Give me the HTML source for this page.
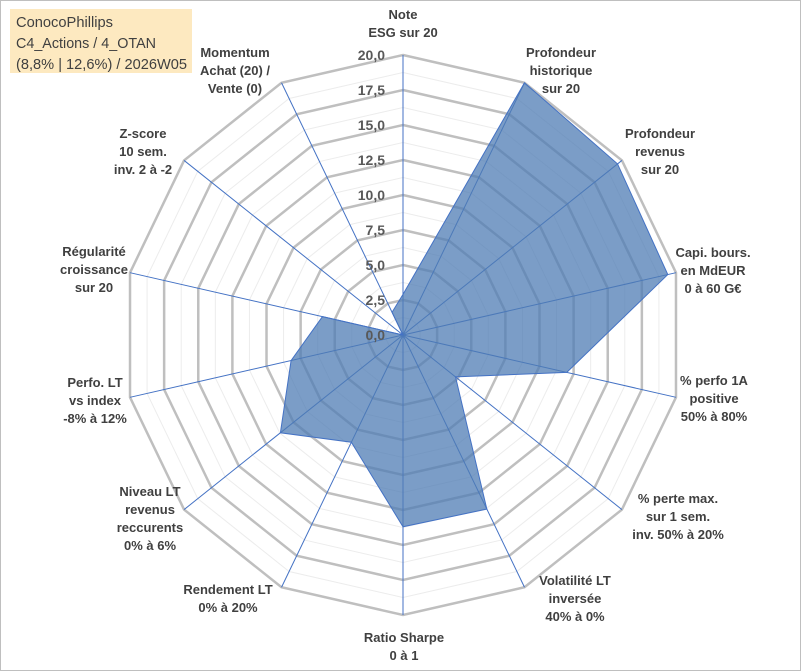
<!DOCTYPE html>
<html><head><meta charset="utf-8"><style>
body{margin:0;background:#fff;}
svg{display:block;font-family:"Liberation Sans",sans-serif;}
</style></head><body>
<svg id="c" width="801" height="671">
<rect x="0.5" y="0.5" width="800" height="670" fill="#fff" stroke="#bfbfbf"/>
<g id="grid"></g><g id="spokes"></g><g id="series"></g><g id="ticks"></g><g id="labels"></g>
<rect x="10" y="9" width="182" height="64" fill="#fde9c0"/>
<text x="16" y="27" font-size="15" fill="#404040" textLength="97" lengthAdjust="spacingAndGlyphs">ConocoPhillips</text>
<text x="16" y="48" font-size="15" fill="#404040" textLength="140" lengthAdjust="spacingAndGlyphs">C4_Actions / 4_OTAN</text>
<text x="16" y="69" font-size="15" fill="#404040" textLength="171" lengthAdjust="spacingAndGlyphs">(8,8% | 12,6%) / 2026W05</text>
</svg>
<script>
const categories=[["Note","ESG sur 20"],["Profondeur","historique","sur 20"],["Profondeur","revenus","sur 20"],["Capi. bours.","en MdEUR","0 à 60 G€"],["% perfo 1A","positive","50% à 80%"],["% perte max.","sur 1 sem.","inv. 50% à 20%"],["Volatilité LT","inversée","40% à 0%"],["Ratio Sharpe","0 à 1"],["Rendement LT","0% à 20%"],["Niveau LT","revenus","reccurents","0% à 6%"],["Perfo. LT","vs index","-8% à 12%"],["Régularité","croissance","sur 20"],["Z-score","10 sem.","inv. 2 à -2"],["Momentum","Achat (20) /","Vente (0)"]];
const values=[2.9,20,19.6,19.4,12.0,4.8,13.8,13.7,8.5,11.2,8.2,5.9,0,1.8];
const tickLabels=["0,0","2,5","5,0","7,5","10,0","12,5","15,0","17,5","20,0"];
const labelPos=[[403,14],[561,52],[660,133],[713,252],[714,380],[678,498],[575,580],[404,637],[228,589],[150,491],[95,382],[94,251],[143,133],[235,52]];
const cx=403,cy=335,R=280,maxV=20,N=categories.length;
const NS="http://www.w3.org/2000/svg";
function ang(i){return i*2*Math.PI/N;}
function pt(i,v){const r=v/maxV*R;return [cx+r*Math.sin(ang(i)),cy-r*Math.cos(ang(i))];}
function mk(tag,attrs,parent){const e=document.createElementNS(NS,tag);for(const k in attrs)e.setAttribute(k,attrs[k]);parent.appendChild(e);return e;}
const grid=document.getElementById('grid');
for(let s=1;s<=16;s++){const v=s*1.25;const pts=[];for(let i=0;i<N;i++)pts.push(pt(i,v).join(','));
 const major=s%2===0;
 const e=mk('polygon',{points:pts.join(' '),fill:'none',stroke:major?'#bfbfbf':'#ececec','stroke-width':major?2.5:1},grid);
 
 }
const sp=document.getElementById('spokes');
for(let i=0;i<N;i++){const p=pt(i,maxV);const e=mk('line',{x1:cx,y1:cy,x2:p[0],y2:p[1],stroke:'#4472c4','stroke-width':1},sp);
 
 }
const ser=document.getElementById('series');
const poly=mk('polygon',{points:values.map((v,i)=>pt(i,v).join(',')).join(' '),fill:'#4f7cb4','fill-opacity':0.75,stroke:'#4472c4','stroke-width':1},ser);


const tk=document.getElementById('ticks');
tickLabels.forEach((t,j)=>{const e=mk('text',{x:385,y:cy-j*2.5/maxV*R+5,'text-anchor':'end','font-size':14,'font-weight':'bold',fill:'#595959'},tk);e.textContent=t;
 
 });
const lb=document.getElementById('labels');
categories.forEach((lines,i)=>{const g=mk('text',{'text-anchor':'middle','font-size':13,'font-weight':'bold',fill:'#404040'},lb);
 
 
 lines.forEach((l,k)=>{const t=mk('tspan',{x:labelPos[i][0],y:labelPos[i][1]+k*18+5},g);t.textContent=l;});});
</script>
</body></html>
